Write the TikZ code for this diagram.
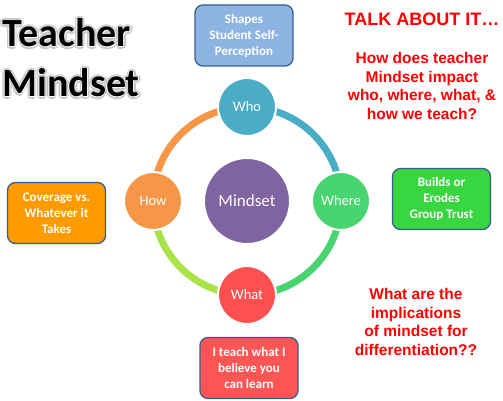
\documentclass[tikz,border=0pt]{standalone}
\usepackage{fontspec}
\setmainfont{Carlito}
\newfontfamily\askfont{Liberation Sans}
\usepackage{tikz}
\usetikzlibrary{arrows}
\pgfdeclarelayer{background}
\pgfsetlayers{background,main}

\definecolor{whoteal}{HTML}{4BACC6}
\definecolor{wheregreen}{HTML}{48D46F}
\definecolor{whatred}{HTML}{FF5050}
\definecolor{howorange}{HTML}{F79646}
\definecolor{whatlime}{HTML}{A8E34A}
\definecolor{mindpurple}{HTML}{8064A2}
\definecolor{boxblue}{HTML}{3B5E8C}
\definecolor{shapesblue}{HTML}{8EB4E3}
\definecolor{coverorange}{HTML}{FF9A00}
\definecolor{trustgreen}{HTML}{38D640}
\definecolor{teachred}{HTML}{FF5555}

\begin{document}
\begin{tikzpicture}[x=1pt,y=1pt,auto,node distance=94pt,semithick]
   \tikzstyle{hub}=[circle,draw=white,line width=2pt,minimum size=58pt,inner sep=0pt,text=white,font=\fontsize{14.5}{17}\selectfont]
   \tikzstyle{core}=[minimum size=86pt,fill=mindpurple,font=\fontsize{17}{20}\selectfont]
   \tikzstyle{note}=[draw=boxblue,line width=1.3pt,rounded corners=8pt,minimum width=98pt,minimum height=61pt,inner sep=0pt,text=white,align=center,font=\bfseries\fontsize{13}{16}\selectfont]
   \tikzstyle{ring}=[line width=7pt]
   \tikzstyle{title}=[anchor=base west,inner sep=0pt,font=\bfseries\fontsize{40}{48}\selectfont]
   \tikzstyle{ask}=[text=red,align=center,inner sep=0pt,font=\askfont\bfseries\fontsize{15.5}{18.7}\selectfont]

   \useasboundingbox (0,0) rectangle (503,-401);

   % heading with a soft outline
   \foreach \a in {0,45,...,315} {
      \node[title,text=black!22] (haloA\a) at (2,-47) [shift={(\a:2.2)}] {Teacher};
      \node[title,text=black!22] (haloB\a) at (2,-97) [shift={(\a:2.2)}] {Mindset};
      \node[title,text=white]    (rimA\a)  at (2,-47) [shift={(\a:1)}] {Teacher};
      \node[title,text=white]    (rimB\a)  at (2,-97) [shift={(\a:1)}] {Mindset};
   }
   \node[title] (T1) at (2,-47) {Teacher};
   \node[title] (T2) at (2,-97) {Mindset};

   % cycle
   \node[hub,core] (M) at (247,-201) {Mindset};
   \node[hub,fill=whoteal]    (who)   [above of=M] {Who};
   \node[hub,fill=wheregreen] (where) [right of=M] {Where};
   \node[hub,fill=whatred]    (what)  [below of=M] {What};
   \node[hub,fill=howorange]  (how)   [left of=M]  {How};

   \begin{pgfonlayer}{background}
   \fill[white] (0,0) rectangle (503,-401);
   \path[ring]
         (who.center)   edge[whoteal,bend left=45]    (where.center)
         (where.center) edge[wheregreen,bend left=45] (what.center)
         (what.center)  edge[whatlime,bend left=45]   (how.center)
         (how.center)   edge[howorange,bend left=45]  (who.center);
   \end{pgfonlayer}

   % boxes
   \node[note,fill=shapesblue]  (shapes) at (244,-35.5)  {Shapes\\Student Self-\\Perception};
   \node[note,fill=coverorange] (cover)  at (56.5,-213)  {Coverage vs.\\Whatever it\\Takes};
   \node[note,fill=trustgreen]  (trust)  at (441.5,-199) {Builds or\\Erodes\\Group Trust};
   \node[note,fill=teachred]    (teach)  at (249,-368)   {I teach what I\\believe you\\can learn};

   % questions
   \node[ask,anchor=base,font=\askfont\bfseries\fontsize{18}{22}\selectfont] (talk) at (422,-26) {TALK ABOUT IT…};
   \node[ask,anchor=north] (impact) at (422,-52)  {How does teacher\\Mindset impact\\who, where, what, \&\\how we teach?};
   \node[ask,anchor=north] (diff)   at (416,-288) {What are the\\implications\\of mindset for\\differentiation??};
\end{tikzpicture}
\end{document}
